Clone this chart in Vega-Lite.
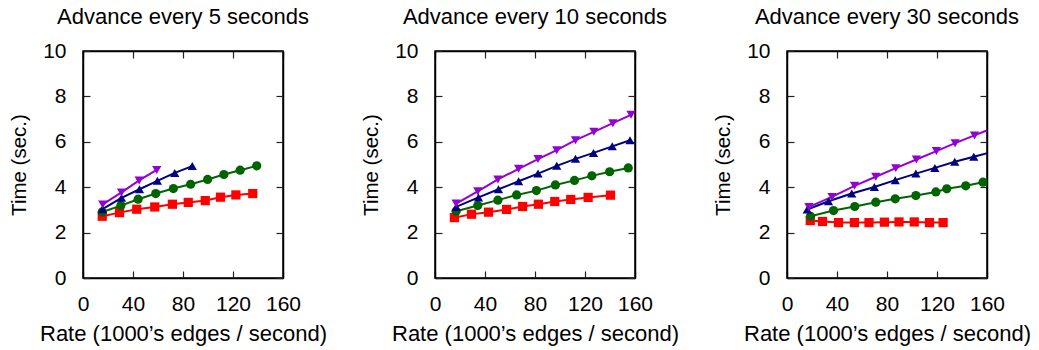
{
  "$schema": "https://vega.github.io/schema/vega-lite/v6.json",
  "padding": {"left": 8, "top": 5, "right": 5, "bottom": 2},
  "background": "white",
  "spacing": 152,
  "bounds": "flush",
  "datasets": {
    "d": [
      {"panel": "p5", "s": "A", "x": 15.4, "y": 2.72},
      {"panel": "p5", "s": "A", "x": 29.2, "y": 2.88},
      {"panel": "p5", "s": "A", "x": 43.0, "y": 3.03},
      {"panel": "p5", "s": "A", "x": 57.4, "y": 3.13},
      {"panel": "p5", "s": "A", "x": 71.5, "y": 3.25},
      {"panel": "p5", "s": "A", "x": 84.2, "y": 3.33},
      {"panel": "p5", "s": "A", "x": 97.8, "y": 3.41},
      {"panel": "p5", "s": "A", "x": 110.0, "y": 3.56},
      {"panel": "p5", "s": "A", "x": 122.3, "y": 3.66},
      {"panel": "p5", "s": "A", "x": 135.8, "y": 3.72},
      {"panel": "p5", "s": "B", "x": 15.4, "y": 2.91},
      {"panel": "p5", "s": "B", "x": 30.3, "y": 3.19},
      {"panel": "p5", "s": "B", "x": 44.1, "y": 3.47},
      {"panel": "p5", "s": "B", "x": 58.2, "y": 3.72},
      {"panel": "p5", "s": "B", "x": 72.3, "y": 3.94},
      {"panel": "p5", "s": "B", "x": 86.1, "y": 4.13},
      {"panel": "p5", "s": "B", "x": 99.7, "y": 4.34},
      {"panel": "p5", "s": "B", "x": 112.7, "y": 4.56},
      {"panel": "p5", "s": "B", "x": 125.7, "y": 4.75},
      {"panel": "p5", "s": "B", "x": 139.0, "y": 4.94},
      {"panel": "p5", "s": "C", "x": 15.6, "y": 3.03},
      {"panel": "p5", "s": "C", "x": 30.8, "y": 3.53},
      {"panel": "p5", "s": "C", "x": 45.2, "y": 3.91},
      {"panel": "p5", "s": "C", "x": 59.5, "y": 4.28},
      {"panel": "p5", "s": "C", "x": 73.4, "y": 4.63},
      {"panel": "p5", "s": "C", "x": 87.4, "y": 4.93},
      {"panel": "p5", "s": "D", "x": 15.8, "y": 3.24},
      {"panel": "p5", "s": "D", "x": 30.8, "y": 3.77},
      {"panel": "p5", "s": "D", "x": 44.9, "y": 4.3},
      {"panel": "p5", "s": "D", "x": 59.0, "y": 4.76},

      {"panel": "p10", "s": "A", "x": 15.5, "y": 2.66},
      {"panel": "p10", "s": "A", "x": 29.2, "y": 2.81},
      {"panel": "p10", "s": "A", "x": 42.8, "y": 2.9},
      {"panel": "p10", "s": "A", "x": 57.3, "y": 3.02},
      {"panel": "p10", "s": "A", "x": 70.1, "y": 3.15},
      {"panel": "p10", "s": "A", "x": 82.7, "y": 3.25},
      {"panel": "p10", "s": "A", "x": 95.8, "y": 3.37},
      {"panel": "p10", "s": "A", "x": 108.6, "y": 3.46},
      {"panel": "p10", "s": "A", "x": 122.5, "y": 3.55},
      {"panel": "p10", "s": "A", "x": 140.4, "y": 3.65},
      {"panel": "p10", "s": "B", "x": 16.9, "y": 2.94},
      {"panel": "p10", "s": "B", "x": 34.2, "y": 3.19},
      {"panel": "p10", "s": "B", "x": 50.3, "y": 3.43},
      {"panel": "p10", "s": "B", "x": 65.3, "y": 3.66},
      {"panel": "p10", "s": "B", "x": 81.1, "y": 3.85},
      {"panel": "p10", "s": "B", "x": 96.3, "y": 4.1},
      {"panel": "p10", "s": "B", "x": 111.6, "y": 4.3},
      {"panel": "p10", "s": "B", "x": 125.5, "y": 4.5},
      {"panel": "p10", "s": "B", "x": 139.7, "y": 4.68},
      {"panel": "p10", "s": "B", "x": 154.6, "y": 4.85},
      {"panel": "p10", "s": "C", "x": 16.9, "y": 3.13},
      {"panel": "p10", "s": "C", "x": 34.8, "y": 3.55},
      {"panel": "p10", "s": "C", "x": 50.8, "y": 3.91},
      {"panel": "p10", "s": "C", "x": 66.9, "y": 4.26},
      {"panel": "p10", "s": "C", "x": 82.4, "y": 4.6},
      {"panel": "p10", "s": "C", "x": 97.4, "y": 4.94},
      {"panel": "p10", "s": "C", "x": 112.4, "y": 5.25},
      {"panel": "p10", "s": "C", "x": 126.8, "y": 5.51},
      {"panel": "p10", "s": "C", "x": 141.8, "y": 5.8},
      {"panel": "p10", "s": "C", "x": 156.0, "y": 6.07},
      {"panel": "p10", "s": "D", "x": 16.9, "y": 3.28},
      {"panel": "p10", "s": "D", "x": 34.2, "y": 3.82},
      {"panel": "p10", "s": "D", "x": 50.3, "y": 4.34},
      {"panel": "p10", "s": "D", "x": 66.9, "y": 4.81},
      {"panel": "p10", "s": "D", "x": 82.4, "y": 5.24},
      {"panel": "p10", "s": "D", "x": 97.4, "y": 5.63},
      {"panel": "p10", "s": "D", "x": 112.4, "y": 6.07},
      {"panel": "p10", "s": "D", "x": 127.1, "y": 6.44},
      {"panel": "p10", "s": "D", "x": 142.3, "y": 6.82},
      {"panel": "p10", "s": "D", "x": 156.8, "y": 7.19},

      {"panel": "p30", "s": "A", "x": 18.6, "y": 2.53},
      {"panel": "p30", "s": "A", "x": 28.4, "y": 2.49},
      {"panel": "p30", "s": "A", "x": 41.2, "y": 2.44},
      {"panel": "p30", "s": "A", "x": 53.9, "y": 2.44},
      {"panel": "p30", "s": "A", "x": 65.6, "y": 2.44},
      {"panel": "p30", "s": "A", "x": 77.9, "y": 2.46},
      {"panel": "p30", "s": "A", "x": 89.6, "y": 2.47},
      {"panel": "p30", "s": "A", "x": 101.8, "y": 2.47},
      {"panel": "p30", "s": "A", "x": 114.0, "y": 2.44},
      {"panel": "p30", "s": "A", "x": 124.9, "y": 2.44},
      {"panel": "p30", "s": "B", "x": 18.8, "y": 2.72},
      {"panel": "p30", "s": "B", "x": 37.2, "y": 2.97},
      {"panel": "p30", "s": "B", "x": 54.2, "y": 3.15},
      {"panel": "p30", "s": "B", "x": 71.0, "y": 3.34},
      {"panel": "p30", "s": "B", "x": 86.6, "y": 3.49},
      {"panel": "p30", "s": "B", "x": 103.1, "y": 3.63},
      {"panel": "p30", "s": "B", "x": 119.1, "y": 3.79},
      {"panel": "p30", "s": "B", "x": 127.8, "y": 3.93},
      {"panel": "p30", "s": "B", "x": 143.0, "y": 4.06},
      {"panel": "p30", "s": "B", "x": 156.8, "y": 4.22},
      {"panel": "p30", "s": "C", "x": 16.2, "y": 3.02},
      {"panel": "p30", "s": "C", "x": 33.2, "y": 3.38},
      {"panel": "p30", "s": "C", "x": 51.8, "y": 3.72},
      {"panel": "p30", "s": "C", "x": 69.9, "y": 4.01},
      {"panel": "p30", "s": "C", "x": 86.6, "y": 4.31},
      {"panel": "p30", "s": "C", "x": 103.1, "y": 4.6},
      {"panel": "p30", "s": "C", "x": 118.3, "y": 4.85},
      {"panel": "p30", "s": "C", "x": 134.2, "y": 5.12},
      {"panel": "p30", "s": "C", "x": 149.4, "y": 5.34},
      {"panel": "p30", "s": "C", "x": 165.0, "y": 5.57},
      {"panel": "p30", "s": "D", "x": 17.5, "y": 3.13},
      {"panel": "p30", "s": "D", "x": 36.0, "y": 3.57},
      {"panel": "p30", "s": "D", "x": 54.0, "y": 4.06},
      {"panel": "p30", "s": "D", "x": 71.0, "y": 4.46},
      {"panel": "p30", "s": "D", "x": 87.0, "y": 4.84},
      {"panel": "p30", "s": "D", "x": 103.5, "y": 5.22},
      {"panel": "p30", "s": "D", "x": 119.5, "y": 5.59},
      {"panel": "p30", "s": "D", "x": 134.5, "y": 5.94},
      {"panel": "p30", "s": "D", "x": 150.0, "y": 6.28},
      {"panel": "p30", "s": "D", "x": 165.0, "y": 6.62}
    ]
  },
  "data": {"name": "d"},
  "hconcat": [
    {
      "width": 200, "height": 227,
      "title": {"text": "Advance every 5 seconds"},
      "transform": [{"filter": "datum.panel == 'p5'"}],
      "layer": [
        {"mark": {"type": "line", "strokeWidth": 2, "clip": true},
         "encoding": {
           "x": {"field": "x", "type": "quantitative", "scale": {"domain": [0, 160], "nice": false}, "axis": {"title": "Rate (1000’s edges / second)", "values": [0, 40, 80, 120, 160]}},
           "y": {"field": "y", "type": "quantitative", "scale": {"domain": [0, 10], "nice": false}, "axis": {"title": "Time (sec.)", "values": [0, 2, 4, 6, 8, 10]}},
           "color": {"field": "s", "type": "nominal", "scale": {"domain": ["A", "B", "C", "D"], "range": ["#ff0000", "#006400", "#000080", "#9400d3"]}, "legend": null},
           "detail": {"field": "s"}
         }},
        {"mark": {"type": "point", "filled": true, "opacity": 1, "size": 85, "clip": true},
         "encoding": {
           "x": {"field": "x", "type": "quantitative", "axis": null},
           "y": {"field": "y", "type": "quantitative", "axis": null},
           "color": {"field": "s", "type": "nominal", "legend": null},
           "shape": {"field": "s", "type": "nominal", "scale": {"domain": ["A", "B", "C", "D"], "range": ["square", "circle", "triangle-up", "triangle-down"]}, "legend": null}
         }},
        {"mark": {"type": "point", "opacity": 0},
         "encoding": {
           "x": {"field": "x", "type": "quantitative", "axis": {"orient": "top", "labels": false, "title": null, "values": [0, 40, 80, 120, 160]}},
           "y": {"field": "y", "type": "quantitative", "axis": {"orient": "right", "labels": false, "title": null, "values": [0, 2, 4, 6, 8, 10]}}
         }}
      ],
      "resolve": {"axis": {"x": "independent", "y": "independent"}}
    },
    {
      "width": 200, "height": 227,
      "title": {"text": "Advance every 10 seconds"},
      "transform": [{"filter": "datum.panel == 'p10'"}],
      "layer": [
        {"mark": {"type": "line", "strokeWidth": 2, "clip": true},
         "encoding": {
           "x": {"field": "x", "type": "quantitative", "scale": {"domain": [0, 160], "nice": false}, "axis": {"title": "Rate (1000’s edges / second)", "values": [0, 40, 80, 120, 160]}},
           "y": {"field": "y", "type": "quantitative", "scale": {"domain": [0, 10], "nice": false}, "axis": {"title": "Time (sec.)", "values": [0, 2, 4, 6, 8, 10]}},
           "color": {"field": "s", "type": "nominal", "legend": null},
           "detail": {"field": "s"}
         }},
        {"mark": {"type": "point", "filled": true, "opacity": 1, "size": 85, "clip": true},
         "encoding": {
           "x": {"field": "x", "type": "quantitative", "axis": null},
           "y": {"field": "y", "type": "quantitative", "axis": null},
           "color": {"field": "s", "type": "nominal", "legend": null},
           "shape": {"field": "s", "type": "nominal", "legend": null}
         }},
        {"mark": {"type": "point", "opacity": 0},
         "encoding": {
           "x": {"field": "x", "type": "quantitative", "axis": {"orient": "top", "labels": false, "title": null, "values": [0, 40, 80, 120, 160]}},
           "y": {"field": "y", "type": "quantitative", "axis": {"orient": "right", "labels": false, "title": null, "values": [0, 2, 4, 6, 8, 10]}}
         }}
      ],
      "resolve": {"axis": {"x": "independent", "y": "independent"}}
    },
    {
      "width": 200, "height": 227,
      "title": {"text": "Advance every 30 seconds"},
      "transform": [{"filter": "datum.panel == 'p30'"}],
      "layer": [
        {"mark": {"type": "line", "strokeWidth": 2, "clip": true},
         "encoding": {
           "x": {"field": "x", "type": "quantitative", "scale": {"domain": [0, 160], "nice": false}, "axis": {"title": "Rate (1000’s edges / second)", "values": [0, 40, 80, 120, 160]}},
           "y": {"field": "y", "type": "quantitative", "scale": {"domain": [0, 10], "nice": false}, "axis": {"title": "Time (sec.)", "values": [0, 2, 4, 6, 8, 10]}},
           "color": {"field": "s", "type": "nominal", "legend": null},
           "detail": {"field": "s"}
         }},
        {"mark": {"type": "point", "filled": true, "opacity": 1, "size": 85, "clip": true},
         "encoding": {
           "x": {"field": "x", "type": "quantitative", "axis": null},
           "y": {"field": "y", "type": "quantitative", "axis": null},
           "color": {"field": "s", "type": "nominal", "legend": null},
           "shape": {"field": "s", "type": "nominal", "legend": null}
         }},
        {"mark": {"type": "point", "opacity": 0},
         "encoding": {
           "x": {"field": "x", "type": "quantitative", "axis": {"orient": "top", "labels": false, "title": null, "values": [0, 40, 80, 120, 160]}},
           "y": {"field": "y", "type": "quantitative", "axis": {"orient": "right", "labels": false, "title": null, "values": [0, 2, 4, 6, 8, 10]}}
         }}
      ],
      "resolve": {"axis": {"x": "independent", "y": "independent"}}
    }
  ],
  "config": {
    "view": {"stroke": "black", "strokeWidth": 1.5},
    "axis": {
      "grid": false,
      "domainColor": "black", "domainWidth": 1.5,
      "tickColor": "#222", "tickSize": -7, "tickWidth": 1.2,
      "labelFont": "Liberation Sans", "labelFontSize": 21, "labelColor": "black",
      "labelFlush": false,
      "titleFont": "Liberation Sans", "titleFontWeight": "normal", "titleColor": "black"
    },
    "axisX": {"labelPadding": 22, "titleFontSize": 22, "titlePadding": 9},
    "axisY": {"labelPadding": 24, "titleFontSize": 20.5, "titlePadding": 13},
    "title": {"font": "Liberation Sans", "fontSize": 22, "fontWeight": "normal", "color": "black", "anchor": "middle", "frame": "group", "baseline": "alphabetic", "offset": 11}
  }
}
